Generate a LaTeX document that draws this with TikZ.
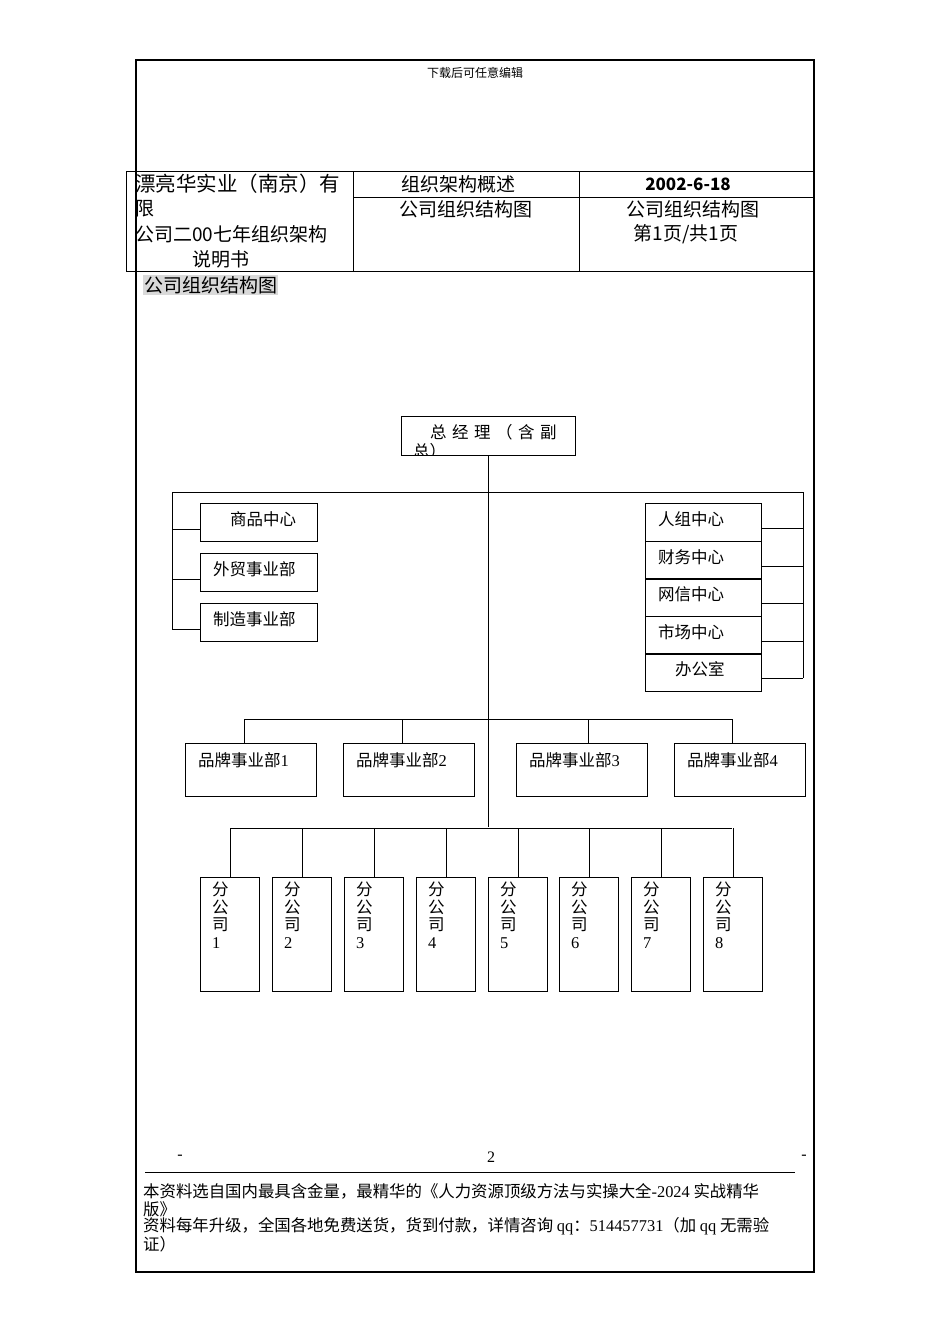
\documentclass[tikz,border=0pt]{standalone}
\usepackage{fontspec}
\setmainfont{Liberation Serif}
\newfontfamily\cjk{Noto Sans CJK SC}
\begin{document}
\begin{tikzpicture}[x=1pt,y=-1pt,
  bx/.style={draw,thick,minimum width=117pt,minimum height=38pt,anchor=north west,inner sep=0pt},
  lab/.style={font=\cjk\fontsize{16.5}{18}\selectfont,anchor=west,inner sep=0pt},
  ln/.style={thick}]
\useasboundingbox (0,0) rectangle (950,1344);
\draw[line width=1.6pt] (136,60) rectangle (814,1272);
\node[font=\cjk\fontsize{12}{13}\selectfont] (hdr) at (475,73) {下载后可任意编辑};
% header table
\draw (126,171) -- (814,171) (126,271) -- (814,271) (126,171) -- (126,271)
  (353,171) -- (353,271) (579,171) -- (579,271) (353,197) -- (814,197);
\begin{scope}[font=\cjk\fontsize{19}{20}\selectfont]
\node[anchor=west,inner sep=0pt,font=\cjk\fontsize{20.5}{21}\selectfont] (t1) at (135,184) {漂亮华实业（南京）有};
\node[anchor=west,inner sep=0pt] (t2) at (135,209) {限};
\node[anchor=west,inner sep=0pt] (t3) at (135,234) {公司二00七年组织架构};
\node[inner sep=0pt] (t4) at (221,259) {说明书};
\node[inner sep=0pt] (t5) at (458,184) {组织架构概述};
\node[inner sep=0pt] (t6) at (466,209) {公司组织结构图};
\node[inner sep=0pt,font=\cjk\fontsize{17}{18}\selectfont] (t7) at (688,184) {\bfseries 2002-6-18};
\node[inner sep=0pt] (t8) at (693,209) {公司组织结构图};
\node[inner sep=0pt] (t9) at (686,234) {第1页/共1页};
\node[anchor=west,fill=black!15,inner sep=1pt] (t10) at (143,285) {公司组织结构图};
\end{scope}
% chart
\node[bx,minimum width=174pt,minimum height=39pt] (gm) at (401,416) {};
\node[lab] (gmt) at (430,432) {总\,\,经\,\,理\,\,（\,\,含\,\,副};
\begin{scope}\clip (402,440) rectangle (574,454);
\node[lab] (gmt2) at (413,451) {总）};\end{scope}
\draw[ln] (488,455) -- (488,827);
\draw[ln] (172,492) -- (803,492) (172,492) -- (172,629) (803,492) -- (803,678);
\foreach \y/\t/\n/\dx in {503/商品中心/a/30,553/外贸事业部/b/13,603/制造事业部/c/13}{
  \node[bx] (l\n) at (200,\y) {};
  \node[lab] at (200+\dx,\y+16) {\t};
  \draw[ln] (172,\y+26) -- (200,\y+26);}
\foreach \y/\t/\n/\dx in {503/人组中心/a/13,541/财务中心/b/13,578/网信中心/c/13,616/市场中心/d/13,653/办公室/e/30}{
  \node[bx,minimum width=116pt,minimum height=38pt] (r\n) at (645,\y) {};
  \node[lab] at (645+\dx,\y+16) {\t};
  \draw[ln] (761,\y+25) -- (803,\y+25);}
\draw[ln] (244,719) -- (732,719);
\foreach \x/\k in {185/1,343/2,516/3,674/4}{
  \node[bx,minimum width=131pt,minimum height=53pt] (p\k) at (\x,743) {};
  \node[lab] at (\x+13,760) {品牌事业部{\rmfamily\k}};}
\foreach \x in {244,402,588,732}{\draw[ln] (\x,719) -- (\x,743);}
\draw[ln] (230,828) -- (732,828);
\foreach \x/\k in {200/1,272/2,344/3,416/4,488/5,559/6,631/7,703/8}{
  \node[bx,minimum width=59pt,minimum height=114pt] (f\k) at (\x,877) {};
  \node[lab,align=left,font=\cjk\fontsize{16.5}{17.5}\selectfont,anchor=north west] at (\x+12,882) {分\\公\\司\\{\rmfamily\k}};
  \draw[ln] (\x+30,828) -- (\x+30,877);}
% footer
\node[font=\fontsize{16}{18}\selectfont] (d1) at (180,1157) {-};
\node[font=\fontsize{16}{18}\selectfont] (pg) at (491,1157) {2};
\node[font=\fontsize{16}{18}\selectfont] (d2) at (804,1157) {-};
\draw (145,1172) -- (795,1172);
\begin{scope}[font=\cjk\fontsize{16.4}{17}\selectfont]
\node[anchor=west,inner sep=0pt] (f1) at (143,1191) {本资料选自国内最具含金量，最精华的《人力资源顶级方法与实操大全{\rmfamily -2024} 实战精华};
\node[anchor=west,inner sep=0pt] (f2) at (143,1209) {版》};
\node[anchor=west,inner sep=0pt] (f3) at (143,1226) {资料每年升级，全国各地免费送货，货到付款，详情咨询 {\rmfamily qq}：{\rmfamily 514457731}（加 {\rmfamily qq} 无需验};
\node[anchor=west,inner sep=0pt] (f4) at (143,1244) {证）};
\end{scope}
\end{tikzpicture}
\end{document}
